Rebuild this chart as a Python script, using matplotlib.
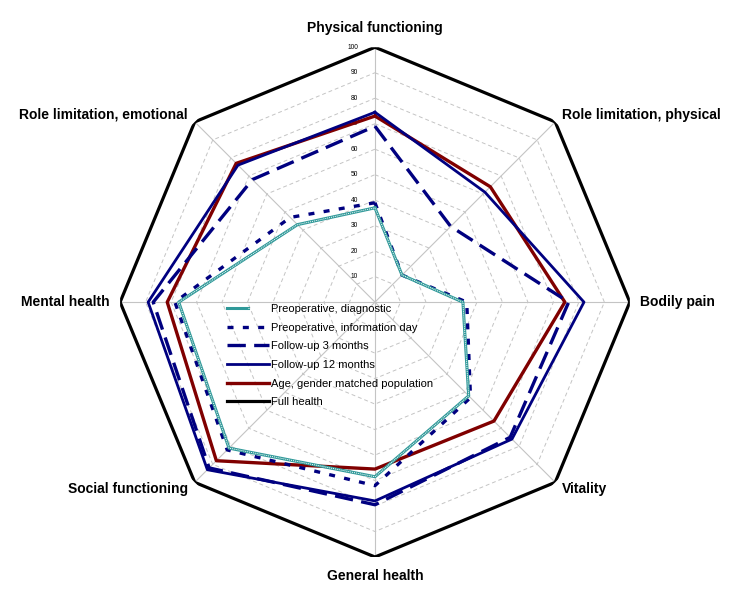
import numpy as np
import matplotlib
matplotlib.use("Agg")
import matplotlib.pyplot as plt
from matplotlib.legend_handler import HandlerTuple

# SF-36 dimensions, clockwise from the top
categories = [
    "Physical functioning",
    "Role limitation, physical",
    "Bodily pain",
    "Vitality",
    "General health",
    "Social functioning",
    "Mental health",
    "Role limitation, emotional",
]
ticks = [10, 20, 30, 40, 50, 60, 70, 80, 90, 100]

diagnostic = [37, 15, 34.5, 52, 68.5, 81, 77, 43]
info_day = [39, 15, 36, 53, 72, 82, 78.5, 47]
followup_3 = [69, 42, 76, 75, 79.5, 92, 87, 68]
followup_12 = [74.5, 61, 82, 76, 78, 93, 89, 76]
age_matched = [73, 64, 74.5, 66, 65.5, 88, 81.5, 77]
full_health = [100, 100, 100, 100, 100, 100, 100, 100]

series_labels = [
    "Preoperative, diagnostic",
    "Preoperative, information day",
    "Follow-up 3 months",
    "Follow-up 12 months",
    "Age, gender matched population",
    "Full health",
]


def closed(values):
    return np.append(values, values[0])


plt.rcParams["font.family"] = ["Liberation Sans", "DejaVu Sans"]

angles = np.linspace(0, 2 * np.pi, len(categories), endpoint=False)
theta = closed(angles)

fig = plt.figure(figsize=(7.38, 6.04), dpi=100)
ax = fig.add_axes([0.1626, 0.0778, 0.691, 0.844], projection="polar")
ax.set_theta_zero_location("N")
ax.set_theta_direction(-1)
ax.set_ylim(0, 100)
ax.grid(False)
ax.spines["polar"].set_visible(False)
ax.set_xticks([])
ax.set_yticks([])
ax.patch.set_visible(False)

# octagonal grid + spokes
grey = "#c4c4c4"
for t in ticks[:-1]:
    ax.plot(theta, np.full(len(theta), t), color=grey, lw=0.7,
            ls=(0, (4, 3)), zorder=1)
for a in angles:
    ax.plot([a, a], [0, 100], color=grey, lw=0.8, zorder=1)

for t in ticks:
    ax.annotate(str(t), xy=(0, t), xytext=(-17, 0), textcoords="offset pixels",
                ha="right", va="center", fontsize=4.8, annotation_clip=False)

# category labels just outside each vertex
for a, name in zip(angles, categories):
    s, c = np.sin(a), np.cos(a)
    if abs(s) < 0.1:
        ha = "center"
        va = "bottom" if c > 0 else "top"
        off = (0, 12 * np.sign(c))
    else:
        ha = "left" if s > 0 else "right"
        va = "center"
        off = (10 * s, 10 * c)
    ax.annotate(name, xy=(a, 100), xytext=off, textcoords="offset pixels",
                ha=ha, va=va, fontsize=10, fontweight="bold",
                annotation_clip=False)

navy = "#000080"
teal = "#2f9999"

l_full, = ax.plot(theta, closed(full_health), color="black", lw=2.3, zorder=2)
l_age, = ax.plot(theta, closed(age_matched), color="#800000", lw=2.4, zorder=3)
l_12, = ax.plot(theta, closed(followup_12), color=navy, lw=2.0, zorder=4)
l_3, = ax.plot(theta, closed(followup_3), color=navy, lw=2.4,
               ls=(0, (5.5, 2.5)), zorder=4)
l_info, = ax.plot(theta, closed(info_day), color=navy, lw=2.4,
                  ls=(0, (1.8, 2.8)), zorder=5)
l_diag, = ax.plot(theta, closed(diagnostic), color=teal, lw=2.2, zorder=6)
l_diag_dots, = ax.plot(theta, closed(diagnostic), color="white", lw=0.7,
                       ls=(0, (1, 1)), zorder=7)

handles = [(l_diag, l_diag_dots), l_info, l_3, l_12, l_age, l_full]
fig.legend(handles, series_labels, loc="upper left",
           bbox_to_anchor=(227 / 738, 1 - 304 / 604),
           bbox_transform=fig.transFigure, frameon=False, borderpad=0,
           borderaxespad=0, handlelength=3.8, handletextpad=0.15,
           labelspacing=0.78, fontsize=8,
           handler_map={tuple: HandlerTuple(ndivide=None, pad=0)})

fig.savefig("out.png", dpi=100)
